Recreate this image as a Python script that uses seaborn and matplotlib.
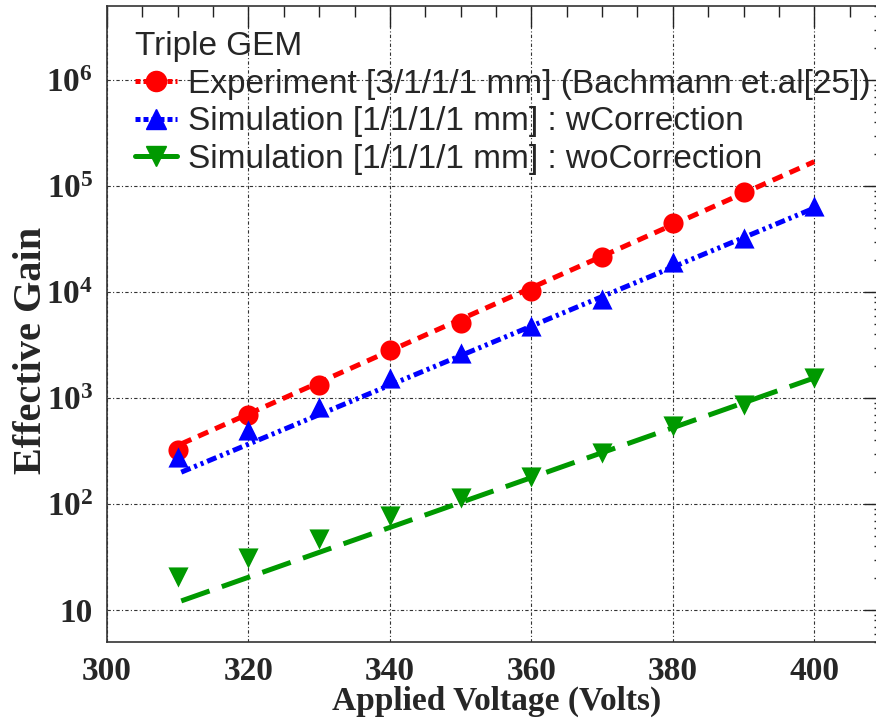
import numpy as np
import pandas as pd
import matplotlib
matplotlib.use("Agg")
import matplotlib.pyplot as plt
import seaborn as sns
from matplotlib.lines import Line2D
from matplotlib.ticker import FixedLocator, FixedFormatter, LogLocator, NullFormatter, MultipleLocator

# ---------------- data ----------------
voltage_exp = [310, 320, 330, 340, 350, 360, 370, 380, 390]
gain_exp = [323, 690, 1330, 2840, 5070, 10300, 21200, 44500, 88400]

voltage_sim = [310, 320, 330, 340, 350, 360, 370, 380, 390, 400]
gain_wcorr = [279, 500, 822, 1560, 2640, 4750, 8700, 19400, 32200, 64600]
gain_wocorr = [20.6, 31, 47, 78, 115, 179, 305, 550, 860, 1535]

# exponential fit lines (end points)
fit_voltage = [310.5, 400]
fit_exp = [370, 170000]
fit_wcorr = [200, 62000]
fit_wocorr = [12.2, 1550]

xtick_values = [300, 320, 340, 360, 380, 400]
xtick_labels = ["300", "320", "340", "360", "380", "400"]
ytick_values = [10, 1e2, 1e3, 1e4, 1e5, 1e6]
ytick_labels = ["10", r"$10^{2}$", r"$10^{3}$", r"$10^{4}$", r"$10^{5}$", r"$10^{6}$"]

legend_title = "Triple GEM"
legend_labels = ["Experiment [3/1/1/1 mm] (Bachmann et.al[25])",
                 "Simulation [1/1/1/1 mm] : wCorrection",
                 "Simulation [1/1/1/1 mm] : woCorrection"]

RED = "#ff0000"
BLUE = "#0000ff"
GREEN = "#009900"

# ---------------- style ----------------
sns.set_style("white")
plt.rcParams["font.family"] = ["Liberation Serif", "DejaVu Serif"]
plt.rcParams["mathtext.fontset"] = "custom"
plt.rcParams["mathtext.rm"] = "Liberation Serif:bold"
plt.rcParams["mathtext.it"] = "Liberation Serif:bold"
plt.rcParams["mathtext.bf"] = "Liberation Serif:bold"

W, H = 876, 721
fig = plt.figure(figsize=(W / 100, H / 100), dpi=100)
ax_left, ax_right, ax_top, ax_bot = 107, 885, 6, 642
ax = fig.add_axes([ax_left / W, 1 - ax_bot / H, (ax_right - ax_left) / W, (ax_bot - ax_top) / H])

df_exp = pd.DataFrame({"V": voltage_exp, "G": gain_exp})
df_sim = pd.DataFrame({"V": voltage_sim, "Gw": gain_wcorr, "Gwo": gain_wocorr})
df_fit = pd.DataFrame({"V": fit_voltage, "exp": fit_exp, "w": fit_wcorr, "wo": fit_wocorr})

lw = 3.6
red_ls = (0, (2.2, 1.5))
blue_ls = (0, (2.0, 0.8, 0.6, 0.8, 0.6, 0.8))
green_ls = (0, (6.0, 2.6))

sns.lineplot(data=df_fit, x="V", y="exp", ax=ax, color=RED, lw=lw, linestyle=red_ls, zorder=3)
sns.lineplot(data=df_fit, x="V", y="w", ax=ax, color=BLUE, lw=lw, linestyle=blue_ls, zorder=3)
sns.lineplot(data=df_fit, x="V", y="wo", ax=ax, color=GREEN, lw=lw, linestyle=green_ls, zorder=3)

ms = 14.5
sns.scatterplot(data=df_exp, x="V", y="G", ax=ax, marker="o", s=ms ** 2, color=RED,
                edgecolor=RED, linewidth=0, zorder=4)
sns.scatterplot(data=df_sim, x="V", y="Gw", ax=ax, marker="^", s=ms ** 2, color=BLUE,
                edgecolor=BLUE, linewidth=0, zorder=4)
sns.scatterplot(data=df_sim, x="V", y="Gwo", ax=ax, marker="v", s=ms ** 2, color=GREEN,
                edgecolor=GREEN, linewidth=0, zorder=4)

ax.set_yscale("log")
ax.set_xlim(300, 410)
ax.set_ylim(5, 5e6)

ax.xaxis.set_major_locator(FixedLocator(xtick_values))
ax.xaxis.set_major_formatter(FixedFormatter(xtick_labels))
ax.xaxis.set_minor_locator(MultipleLocator(5))
ax.yaxis.set_major_locator(FixedLocator(ytick_values))
ax.yaxis.set_major_formatter(FixedFormatter(ytick_labels))
ax.yaxis.set_minor_locator(LogLocator(base=10, subs=np.arange(2, 10)))
ax.yaxis.set_minor_formatter(NullFormatter())

ax.tick_params(axis="both", which="major", direction="in", length=15, width=1.0,
               top=True, right=True, labelsize=24, pad=10, color="#222222")
ax.tick_params(axis="both", which="minor", direction="in", length=8, width=1.0,
               top=True, right=True, color="#222222")
for lab in ax.get_xticklabels() + ax.get_yticklabels():
    lab.set_fontweight("bold")
    lab.set_family(["Liberation Serif"])

ax.grid(True, which="major", color="#333333", lw=0.8, linestyle=(0, (3, 2, 1, 2)))
for s in ax.spines.values():
    s.set_linewidth(1.2)
    s.set_color("#333333")

ax.set_xlabel("Applied Voltage (Volts)", fontsize=24, fontweight="bold", family=["Liberation Serif"])
ax.set_ylabel("Effective Gain", fontsize=29, fontweight="bold", family=["Liberation Serif"])
ax.xaxis.set_label_coords((497 - ax_left) / (ax_right - ax_left), (ax_bot - 686) / (ax_bot - ax_top))
ax.yaxis.set_label_coords((50 - ax_left) / (ax_right - ax_left), (ax_bot - 350) / (ax_bot - ax_top))

handles = [
    Line2D([], [], color=RED, lw=lw, linestyle=(0, (1.0, 0.6)), marker="o", markersize=ms),
    Line2D([], [], color=BLUE, lw=lw, linestyle=(0, (1.0, 0.6)), marker="^", markersize=ms),
    Line2D([], [], color=GREEN, lw=lw, linestyle="-", marker="v", markersize=ms),
]
leg = ax.legend(handles, legend_labels, title=legend_title, loc="upper left",
                bbox_to_anchor=((135 - ax_left) / (ax_right - ax_left), (ax_bot - 31) / (ax_bot - ax_top)),
                frameon=False, prop={"family": "Liberation Sans", "size": 24},
                title_fontproperties={"family": "Liberation Sans", "size": 24},
                alignment="left", handlelength=1.25, handletextpad=0.33, labelspacing=0.2,
                borderpad=0.0, borderaxespad=0.0)

fig.savefig("out.png", dpi=100)
